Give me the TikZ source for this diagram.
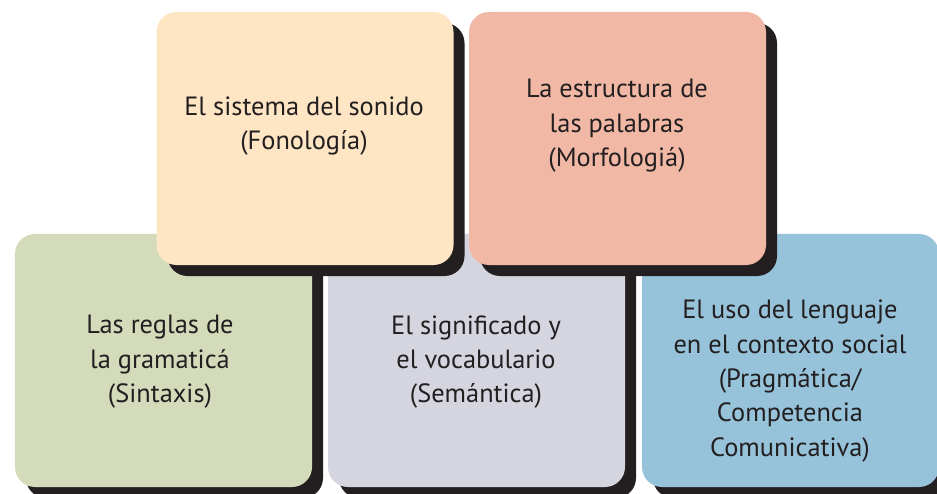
\documentclass[tikz,border=0pt]{standalone}
\usepackage{fontspec}
\setmainfont{PT Sans}
\usetikzlibrary{shadows}
\definecolor{peachc}{HTML}{FEE5C3}
\definecolor{salmonc}{HTML}{F1B9A5}
\definecolor{greenc}{HTML}{D3DBBB}
\definecolor{lavc}{HTML}{D5D5E0}
\definecolor{bluec}{HTML}{96C3DA}
\definecolor{shadowc}{HTML}{231F20}
\definecolor{textc}{HTML}{231F20}
\begin{document}
\begin{tikzpicture}[x=1bp,y=-1bp,
  card/.style={draw=none, rounded corners=20bp, minimum width=297bp, minimum height=253bp, inner sep=0pt,
    drop shadow={shadow xshift=11bp, shadow yshift=-11bp, fill=shadowc, opacity=1}},
  lbl/.style={align=center, font=\fontsize{26.5}{34.5}\selectfont, text=textc, inner sep=0pt}]
\useasboundingbox (0,0) rectangle (937,494);
% bottom row
\node[card, fill=greenc] (sin) at (163.5,360.5) {};
\node[card, fill=lavc] (sem) at (476.5,360.5) {};
\node[card, fill=bluec] (pra) at (790.5,360.5) {};
% top row
\node[card, fill=peachc] (fon) at (305,138.5) {};
\node[card, fill=salmonc] (mor) at (617.5,138.5) {};
% labels
\node[lbl] (tfon) at (304,126) {El sistema del sonido\\(Fonología)};
\node[lbl] (tmor) at (617,126) {La estructura de\\las palabras\\(Morfologiá)};
\node[lbl] (tsin) at (160,362) {Las reglas de\\la gramaticá\\(Sintaxis)};
\node[lbl] (tsem) at (476,362) {El significado y\\el vocabulario\\(Semántica)};
\node[lbl] (tpra) at (790,381) {El uso del lenguaje\\en el contexto social\\(Pragmática/\\Competencia\\Comunicativa)};
\end{tikzpicture}
\end{document}
